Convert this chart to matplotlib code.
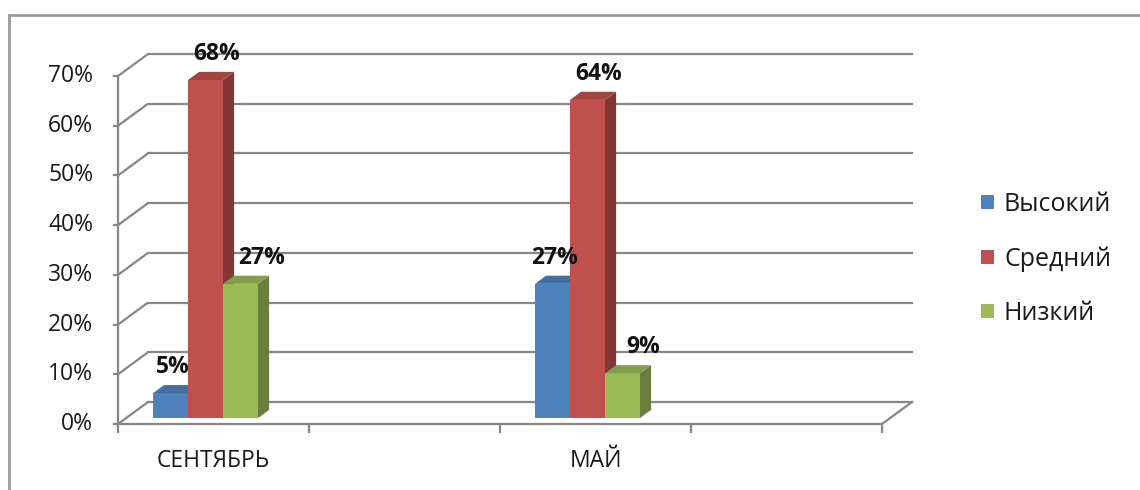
import matplotlib
matplotlib.use("Agg")
import matplotlib.pyplot as plt
from matplotlib.patches import Polygon, Patch
from matplotlib.lines import Line2D
import matplotlib.colors as mcolors

plt.rcParams['font.family'] = ['Open Sans', 'DejaVu Sans']

# ---- data ----
categories = ["СЕНТЯБРЬ", "", "МАЙ", ""]
series_names = ["Высокий", "Средний", "Низкий"]
vysokiy = [5, None, 27, None]
sredniy = [68, None, 64, None]
nizkiy = [27, None, 9, None]
yticks = [0, 10, 20, 30, 40, 50, 60, 70]
ytick_labels = ["0%", "10%", "20%", "30%", "40%", "50%", "60%", "70%"]

series_values = [vysokiy, sredniy, nizkiy]
colors = ["#4F81BD", "#C0504D", "#9BBB59"]

# ---- layout (pixel-based figure 1140x490) ----
W, H = 1140, 490
fig = plt.figure(figsize=(W / 100, H / 100), dpi=100)

px_left, px_right, px_bottom, px_top = 118, 912, 424, 52
ax = fig.add_axes([px_left / W, 1 - px_bottom / H, (px_right - px_left) / W, (px_bottom - px_top) / H])
px_per_cat = (882 - 118) / 4.0
px_per_pct = (424 - 76) / 70.0
ax.set_xlim(0, (px_right - px_left) / px_per_cat)
ax.set_ylim(0, (px_bottom - px_top) / px_per_pct)
ax.axis("off")

DX = 30 / px_per_cat   # depth offset in category units
DY = 22 / px_per_pct   # depth offset in percent units
ncat = len(categories)
grid_c = "#878787"
glw = 1.6
tick_fs = 16.5
text_c = "#1a1a1a"

# back wall gridlines + diagonals
for v, lab in zip(yticks, ytick_labels):
    ax.plot([0, DX], [v, v + DY], color=grid_c, lw=glw, zorder=1, clip_on=False, solid_capstyle='butt')
    ax.plot([DX, ncat + DX], [v + DY, v + DY], color=grid_c, lw=glw, zorder=1, clip_on=False)
    ax.plot([-0.022, 0], [v, v], color=grid_c, lw=glw, zorder=1, clip_on=False)
    ax.text(-0.13, v, lab, ha="right", va="center", fontsize=tick_fs, color=text_c)
# floor front line and right diagonal
ax.plot([0, ncat], [0, 0], color=grid_c, lw=glw, zorder=1, clip_on=False)
ax.plot([ncat, ncat + DX], [0, DY], color=grid_c, lw=glw, zorder=1, clip_on=False)
# front vertical axis
ax.plot([0, 0], [0, yticks[-1]], color=grid_c, lw=glw, zorder=1, clip_on=False)
# category tick marks
for i in range(ncat + 1):
    ax.plot([i, i], [0, -1.7], color=grid_c, lw=glw, zorder=1, clip_on=False)
# category labels
for i, c in enumerate(categories):
    if c:
        ax.text(i + 0.5, -5.0, c, ha="center", va="top", fontsize=tick_fs, color=text_c)

# ---- 3D bars ----
bar_w = 35 / px_per_cat
group_off = 35 / px_per_cat
f_frac, d_frac = 0.27, 0.37
fx, fy = f_frac * DX, f_frac * DY
ddx, ddy = d_frac * DX, d_frac * DY
label_dx = [-6.5, 0, 7]  # points, per series


def shade(c, f):
    r, g, b = mcolors.to_rgb(c)
    return (r * f, g * f, b * f)


for s, (vals, col) in enumerate(zip(series_values, colors)):
    for i, v in enumerate(vals):
        if v is None:
            continue
        xl = i + group_off + s * bar_w
        ax.bar(xl, v, width=bar_w, bottom=fy, align="edge", color=col, edgecolor="none",
               zorder=3 + s)
        side = Polygon([(xl + bar_w, fy), (xl + bar_w + ddx, fy + ddy),
                        (xl + bar_w + ddx, v + fy + ddy), (xl + bar_w, v + fy)],
                       closed=True, facecolor=shade(col, 0.68), edgecolor="none", zorder=3 + s)
        ax.add_patch(side)
        top = Polygon([(xl, v + fy), (xl + bar_w, v + fy), (xl + bar_w + ddx, v + fy + ddy),
                       (xl + ddx, v + fy + ddy)],
                      closed=True, facecolor=shade(col, 0.85), edgecolor="none", zorder=3 + s)
        ax.add_patch(top)
        ax.annotate(f"{v}%", xy=(xl + bar_w / 2 + ddx, v + fy + ddy),
                    xytext=(label_dx[s], 8.5), textcoords="offset points",
                    ha="center", va="baseline", fontsize=tick_fs, fontweight="bold",
                    color="#111111", zorder=10, annotation_clip=False)

# ---- legend ----
handles = [Patch(facecolor=c, edgecolor="none") for c in colors]
fig.legend(handles, series_names, loc="center left", bbox_to_anchor=(971 / W, 1 - 259 / H),
           frameon=False, fontsize=18, handlelength=0.5, handleheight=0.5,
           handletextpad=0.42, labelspacing=1.17, borderaxespad=0, labelcolor=text_c)

# ---- outer frame ----
fig.add_artist(Line2D([9 / W, 1.0], [1 - 15 / H, 1 - 15 / H], transform=fig.transFigure,
                      color="#999999", lw=2))
fig.add_artist(Line2D([9 / W, 9 / W], [0, 1 - 15 / H], transform=fig.transFigure,
                      color="#999999", lw=2))

fig.savefig("out.png", dpi=100, facecolor="white")
